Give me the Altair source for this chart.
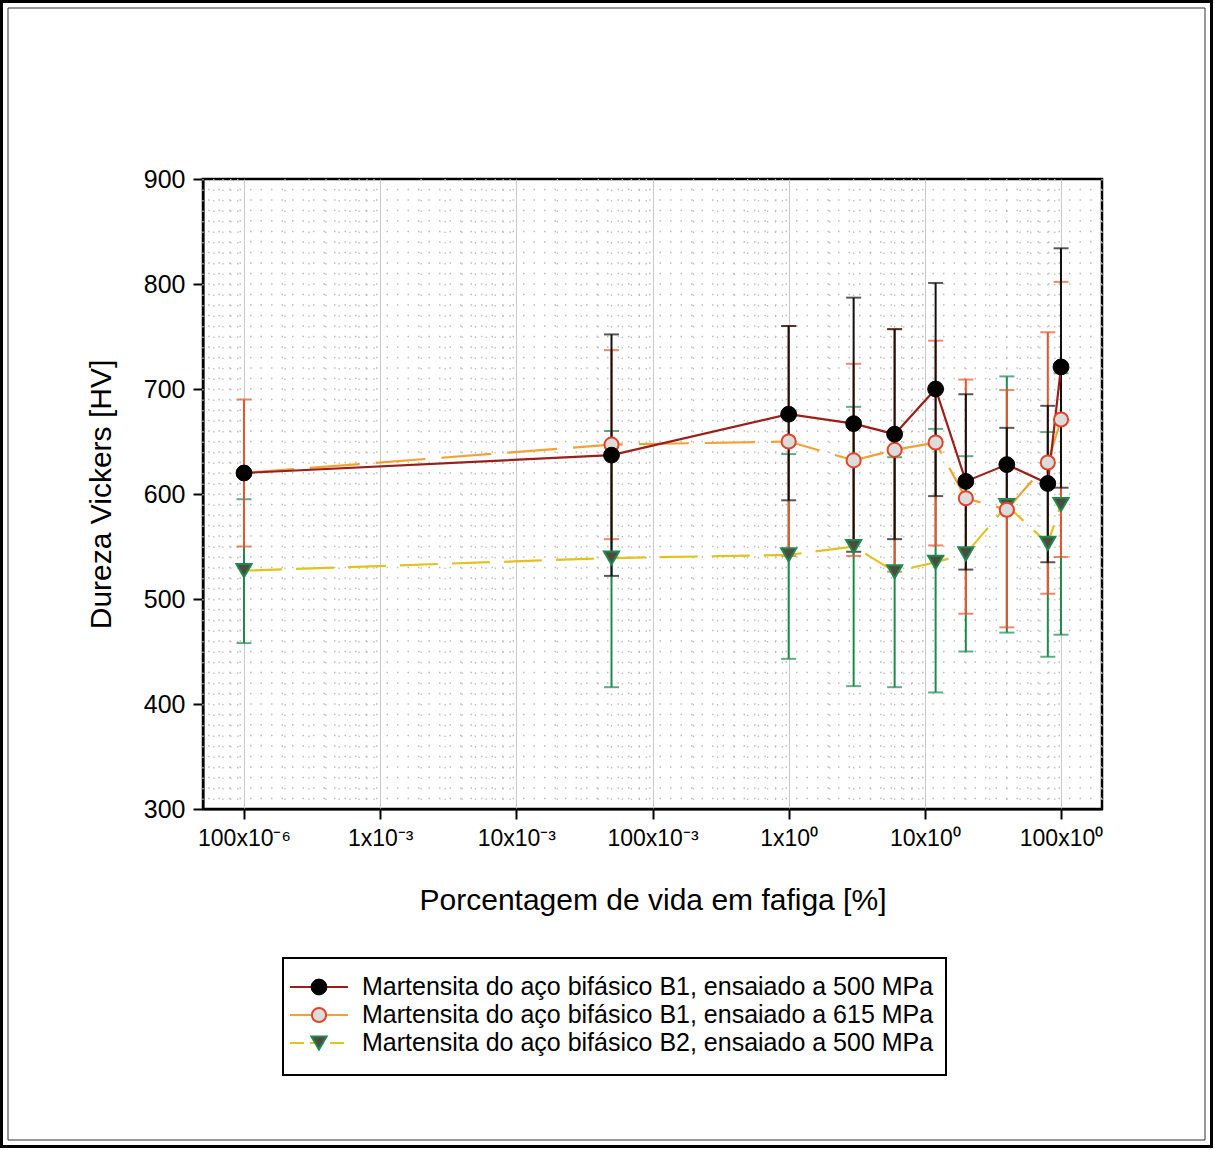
import altair as alt
import pandas as pd
import math

# ---------------- data ----------------
pct = [1e-4, 0.05, 1, 3, 6, 12, 20, 40, 80, 100]

b1_500 = [620, 637, 676, 667, 657, 700, 612, 628, 610, 721]
b1_500_lo = [None, 522, 594, 545, 557, 598, 528, 593, 535, 606]
b1_500_hi = [None, 752, 760, 787, 757, 801, 695, 663, 684, 834]

b1_615 = [620, 647, 650, 632, 642, 649, 596, 585, 630, 671]
b1_615_lo = [550, 557, 541, 541, 526, 551, 486, 473, 505, 540]
b1_615_hi = [690, 737, 760, 724, 757, 746, 709, 699, 754, 802]

b2_500 = [527, 539, 542, 550, 526, 535, 543, 589, 553, 590]
b2_500_lo = [458, 416, 443, 417, 416, 411, 450, 468, 445, 466]
b2_500_hi = [595, 660, 638, 683, 635, 662, 636, 712, 659, 715]

series_names = [
    "Martensita do aço bifásico B1, ensaiado a 500 MPa",
    "Martensita do aço bifásico B1, ensaiado a 615 MPa",
    "Martensita do aço bifásico B2, ensaiado a 500 MPa",
]

x_tick_values = [1e-4, 1e-3, 1e-2, 1e-1, 1, 10, 100]
x_tick_labels = ["100x10⁻⁶", "1x10⁻³", "10x10⁻³", "100x10⁻³", "1x10⁰", "10x10⁰", "100x10⁰"]
y_tick_values = [300, 400, 500, 600, 700, 800, 900]

x_title = "Porcentagem de vida em fafiga [%]"
y_title = "Dureza Vickers [HV]"

# ---------------- styles ----------------
FONT = "Liberation Sans"
W, H = 899, 630
X_DOMAIN = [5e-5, 200]
Y_DOMAIN = [300, 900]

styles = [
    dict(line="#9a1f1a", dash=None, err="#111111", shape="circle", fill="#000000",
         stroke="#000000", size=250, sw=1),
    dict(line="#f4a133", dash=[50, 16], err="#e8542c", shape="circle", fill="#dcdcdc",
         stroke="#e0452a", size=200, sw=2),
    dict(line="#e3c21d", dash=[38, 14], err="#1e8a4e", shape="triangle-down", fill="#4e4a3e",
         stroke="#1e8a4e", size=230, sw=2),
]

means = [b1_500, b1_615, b2_500]
los = [b1_500_lo, b1_615_lo, b2_500_lo]
his = [b1_500_hi, b1_615_hi, b2_500_hi]

xs = alt.Scale(type="log", domain=X_DOMAIN, nice=False)
ys = alt.Scale(domain=Y_DOMAIN, nice=False, zero=False)

# label expression for x ticks
expr = "''"
for v, lab in reversed(list(zip(x_tick_values, x_tick_labels))):
    e = int(round(math.log10(v)))
    expr = f"round(log(datum.value)/LN10) == {e} ? '{lab}' : ({expr})"

X_AXIS = alt.Axis(
    values=x_tick_values, labelExpr=expr, grid=True, gridColor="#c9c9c9", gridWidth=1,
    tickSize=10, tickWidth=2, tickColor="black", domainColor="black", domainWidth=2,
    labelFont=FONT, labelFontSize=23, labelColor="black", labelPadding=8,
    title=x_title, titleFont=FONT, titleFontSize=30, titleFontWeight="normal",
    titleColor="black", titlePadding=35, labelFlush=False)
Y_AXIS = alt.Axis(
    values=y_tick_values, grid=False, tickSize=10, tickWidth=2, tickColor="black",
    domainColor="black", domainWidth=2, labelFont=FONT, labelFontSize=25,
    labelColor="black", labelPadding=8, title=y_title, titleFont=FONT,
    titleFontSize=30, titleFontWeight="normal", titleColor="black", titlePadding=27)


def X(field):
    return alt.X(field, scale=xs, axis=X_AXIS)


def Y(field):
    return alt.Y(field, scale=ys, axis=Y_AXIS)


# ---------------- grid ----------------
minor_x = []
for d in range(-5, 3):
    for m in range(2, 10):
        v = m * 10 ** d
        if X_DOMAIN[0] <= v <= X_DOMAIN[1]:
            minor_x.append(v)
minor_y = [v for v in range(310, 900, 10)]

grid_vx = alt.Chart(pd.DataFrame({"x": minor_x})).mark_rule(
    color="#bdbdbd", strokeWidth=1.3, strokeDash=[1.5, 9]
).encode(x=X("x:Q"))

grid_hy = alt.Chart(pd.DataFrame({"y": minor_y})).mark_rule(
    color="#bdbdbd", strokeWidth=1.3, strokeDash=[1.5, 9]
).encode(y=Y("y:Q"))

layers = [grid_vx, grid_hy]

# ---------------- error bars ----------------
err_layers = []
for i, name in enumerate(series_names):
    st = styles[i]
    df = pd.DataFrame({"x": pct, "lo": los[i], "hi": his[i]}).dropna()
    bar = alt.Chart(df).mark_rule(color=st["err"], strokeWidth=2).encode(
        x=X("x:Q"),
        y=Y("lo:Q"),
        y2="hi:Q",
    )
    caps = alt.Chart(df).transform_fold(["lo", "hi"], as_=["k", "v"]).mark_tick(
        orient="horizontal", size=15, thickness=2, color=st["err"]
    ).encode(
        x=X("x:Q"),
        y=Y("v:Q"),
    )
    err_layers += [bar, caps]

# order: green bars under, then orange, then black on top
layers += [err_layers[4], err_layers[5], err_layers[2], err_layers[3], err_layers[0], err_layers[1]]

# ---------------- lines and markers ----------------
line_layers = []
point_layers = []
for i, name in enumerate(series_names):
    st = styles[i]
    df = pd.DataFrame({"x": pct, "y": means[i]})
    lkw = dict(color=st["line"], strokeWidth=2.2)
    if st["dash"]:
        lkw["strokeDash"] = st["dash"]
    line_layers.append(alt.Chart(df).mark_line(**lkw).encode(x=X("x:Q"), y=Y("y:Q")))
    point_layers.append(alt.Chart(df).mark_point(
        shape=st["shape"], filled=True, fill=st["fill"], stroke=st["stroke"],
        strokeWidth=st["sw"], size=st["size"], opacity=1, fillOpacity=1
    ).encode(x=X("x:Q"), y=Y("y:Q")))

layers += [line_layers[2], line_layers[1], line_layers[0]]
layers += [point_layers[2], point_layers[1], point_layers[0]]

# ---------------- manual legend (below the plot) ----------------
one = pd.DataFrame({"a": [0]})
legend_rows_y = [808, 836, 864]
leg = []
leg.append(alt.Chart(one).mark_rect(fillOpacity=0, stroke="black", strokeWidth=2).encode(
    x=alt.value(80), x2=alt.value(743), y=alt.value(779), y2=alt.value(896)))
for i, name in enumerate(series_names):
    st = styles[i]
    yy = legend_rows_y[i]
    rkw = dict(color=st["line"], strokeWidth=2.2)
    if i == 2:
        rkw["strokeDash"] = [14, 6]
    leg.append(alt.Chart(one).mark_rule(**rkw).encode(
        x=alt.value(87), x2=alt.value(145), y=alt.value(yy)))
    leg.append(alt.Chart(one).mark_point(
        shape=st["shape"], filled=True, fill=st["fill"], stroke=st["stroke"],
        strokeWidth=st["sw"], size=st["size"], opacity=1
    ).encode(x=alt.value(116), y=alt.value(yy)))
    leg.append(alt.Chart(one).mark_text(
        text=name, align="left", baseline="middle", font=FONT, fontSize=25, color="black"
    ).encode(x=alt.value(159), y=alt.value(yy)))
layers += leg

# ---------------- page frame ----------------
frame_outer = alt.Chart(one).mark_rect(fillOpacity=0, stroke="black", strokeWidth=3).encode(
    x=alt.value(-201.5), x2=alt.value(1008.5), y=alt.value(-177.5), y2=alt.value(967.5))
frame_inner = alt.Chart(one).mark_rect(fillOpacity=0, stroke="#333333", strokeWidth=1).encode(
    x=alt.value(-195), x2=alt.value(1002), y=alt.value(-171), y2=alt.value(961))
layers += [frame_outer, frame_inner]

chart = alt.layer(*layers).properties(
    width=W, height=H, padding=0, background="white"
).configure_view(stroke="black", strokeWidth=2.5)

chart.save("out.html", embed_options={"renderer": "svg", "actions": False})
